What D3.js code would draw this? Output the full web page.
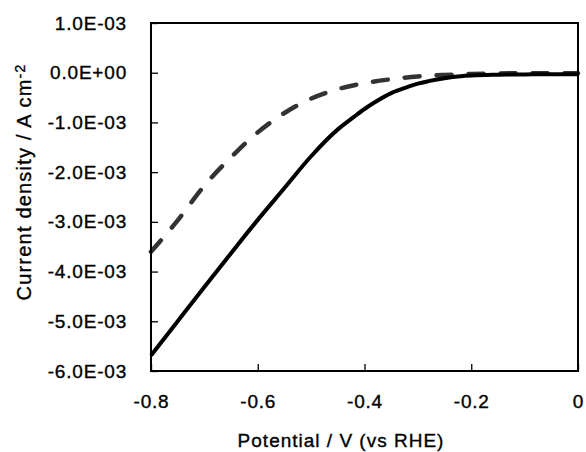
<!DOCTYPE html>
<html>
<head>
<meta charset="utf-8">
<script src="https://cdn.jsdelivr.net/npm/d3@7"></script>
<style>
  html, body { margin: 0; padding: 0; background: #fff; }
  text { font-family: "Liberation Sans", Arial, sans-serif; fill: #000; stroke: #000; stroke-width: 0.35px; }
</style>
</head>
<body>
<div id="chart"></div>
<script>
// data (current in A cm-2)
const solidPotential = [-0.80, -0.75, -0.70, -0.65, -0.60, -0.55, -0.50, -0.45, -0.42, -0.40, -0.38, -0.35, -0.32, -0.30, -0.28, -0.25, -0.22, -0.20, -0.15, -0.10, -0.05, 0];
const solidCurrent = [-5.69e-3, -5.00e-3, -4.31e-3, -3.63e-3, -2.96e-3, -2.32e-3, -1.68e-3, -1.14e-3, -0.89e-3, -0.73e-3, -0.59e-3, -0.41e-3, -0.29e-3, -0.22e-3, -0.17e-3, -0.11e-3, -0.07e-3, -0.055e-3, -0.04e-3, -0.035e-3, -0.03e-3, -0.03e-3];

const dashedPotential = [-0.80, -0.75, -0.70, -0.65, -0.60, -0.55, -0.50, -0.45, -0.40, -0.35, -0.30, -0.25, -0.20, -0.15, -0.10, -0.05, 0];
const dashedCurrent = [-3.60e-3, -2.97e-3, -2.27e-3, -1.70e-3, -1.20e-3, -0.81e-3, -0.52e-3, -0.33e-3, -0.21e-3, -0.13e-3, -0.075e-3, -0.045e-3, -0.025e-3, -0.015e-3, -0.01e-3, -0.01e-3, -0.01e-3];

const xTicks = [-0.8, -0.6, -0.4, -0.2, 0];
const yTicks = [1e-3, 0, -1e-3, -2e-3, -3e-3, -4e-3, -5e-3, -6e-3];

const width = 586, height = 452;
const margin = { top: 23, right: 8, bottom: 81, left: 151 };

const svg = d3.select("#chart").append("svg")
    .attr("width", width)
    .attr("height", height);

const x = d3.scaleLinear().domain([-0.8, 0]).range([margin.left, width - margin.right]);
const y = d3.scaleLinear().domain([-6e-3, 1e-3]).range([height - margin.bottom, margin.top]);

// "1.0E-03" style labels
function sci(v) {
    if (v === 0) return "0.0E+00";
    const e = Math.floor(Math.log10(Math.abs(v)) + 1e-9);
    const m = v / Math.pow(10, e);
    const sign = e < 0 ? "-" : "+";
    return m.toFixed(1) + "E" + sign + String(Math.abs(e)).padStart(2, "0");
}

const yAxis = svg.append("g")
    .attr("transform", `translate(${margin.left},0)`)
    .call(d3.axisLeft(y).tickValues(yTicks).tickFormat(sci).tickSizeInner(-7).tickSizeOuter(0).tickPadding(24));

const xAxis = svg.append("g")
    .attr("transform", `translate(0,${height - margin.bottom})`)
    .call(d3.axisBottom(x).tickValues(xTicks).tickFormat(d => d === 0 ? "0" : String(+d.toFixed(1))).tickSizeInner(-7).tickSizeOuter(0).tickPadding(24));

[yAxis, xAxis].forEach(a => {
    a.select(".domain").remove();
    a.selectAll(".tick line").attr("stroke", "#000").attr("stroke-width", 1.3);
    a.selectAll(".tick text")
        .style("font-size", "19px")
        .style("letter-spacing", "0.8px")
        .attr("fill", "#000");
});

// lines
const solid = solidPotential.map((v, i) => [v, solidCurrent[i]]);
const dashed = dashedPotential.map((v, i) => [v, dashedCurrent[i]]);

const line = d3.line()
    .x(d => x(d[0]))
    .y(d => y(d[1]))
    .curve(d3.curveMonotoneX);

svg.append("path")
    .datum(dashed)
    .attr("d", line)
    .attr("fill", "none")
    .attr("stroke", "#333")
    .attr("stroke-width", 4.5)
    .attr("stroke-linecap", "round")
    .attr("stroke-dasharray", "15,17");

svg.append("path")
    .datum(solid)
    .attr("d", line)
    .attr("fill", "none")
    .attr("stroke", "#000")
    .attr("stroke-width", 4);

// frame
svg.append("rect")
    .attr("x", margin.left)
    .attr("y", margin.top)
    .attr("width", width - margin.left - margin.right)
    .attr("height", height - margin.top - margin.bottom)
    .attr("fill", "none")
    .attr("stroke", "#000")
    .attr("stroke-width", 2);

// axis titles
svg.append("text")
    .attr("x", 341)
    .attr("y", 447)
    .attr("text-anchor", "middle")
    .style("font-size", "19px")
    .style("letter-spacing", "1px")
    .text("Potential / V (vs RHE)");

const yTitle = svg.append("text")
    .attr("transform", "translate(31,182) rotate(-90)")
    .attr("text-anchor", "middle")
    .style("font-size", "20px")
    .style("letter-spacing", "1.2px");
yTitle.append("tspan").text("Current density / A cm");
yTitle.append("tspan").attr("dy", "-0.45em").style("font-size", "14px").text("-2");
</script>
</body>
</html>
